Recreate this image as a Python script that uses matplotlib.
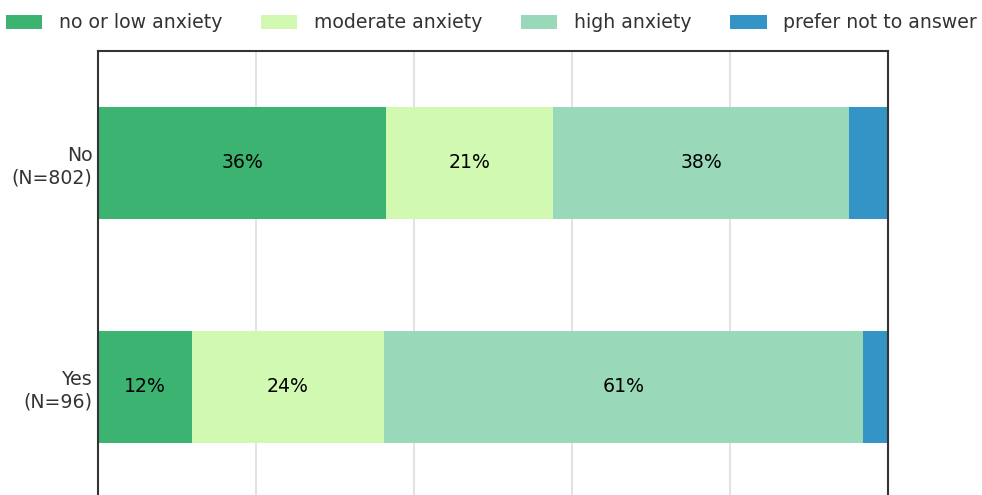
import matplotlib
matplotlib.use("Agg")
import matplotlib.pyplot as plt
import numpy as np

categories = ["No\n(N=802)", "Yes\n(N=96)"]
series_names = ["no or low anxiety", "moderate anxiety", "high anxiety", "prefer not to answer"]
no_values = [36.5, 21.1, 37.5, 4.9]
yes_values = [11.9, 24.3, 60.6, 3.2]
colors = ["#3cb371", "#d1f9b1", "#99d8b9", "#3494c6"]

values = np.array([no_values, yes_values])

FS = 13.6
plt.rcParams['font.family'] = ['DejaVu Sans']
fig = plt.figure(figsize=(9.82, 4.95), dpi=100)
ax = fig.add_axes([98/982, -4/495, 790/982, 448/495])

y = np.arange(len(categories))
left = np.zeros(len(categories))
for i, name in enumerate(series_names):
    vals = values[:, i]
    ax.barh(y, vals, left=left, height=0.5, color=colors[i], label=name, zorder=2)
    for j, v in enumerate(vals):
        if v >= 8:
            ax.text(left[j] + v / 2, y[j], f"{round(v):.0f}%", ha="center", va="center",
                    fontsize=FS, color="black", zorder=3)
    left += vals

ax.set_xlim(0, 100)
ax.set_ylim(1.5, -0.5)
ax.set_yticks(y)
ax.set_yticklabels(categories, fontsize=FS, color="#333333")
ax.set_xticks([0, 20, 40, 60, 80, 100])
ax.tick_params(axis="both", length=0, pad=4)
ax.tick_params(axis="x", labelbottom=False)
ax.grid(axis="x", color="#dddddd", linewidth=1.2, zorder=0)
for s in ax.spines.values():
    s.set_color("#333333")
    s.set_linewidth(1.5)

handles, labels = ax.get_legend_handles_labels()
fig.legend(handles, labels, loc="center", bbox_to_anchor=(0.5, 1 - 23/495), ncol=4,
           frameon=False, fontsize=FS, handlelength=1.95, handleheight=0.75,
           columnspacing=2.05, handletextpad=0.85, labelcolor="#333333",
           borderpad=0, borderaxespad=0)

fig.savefig("out.png", dpi=100)
